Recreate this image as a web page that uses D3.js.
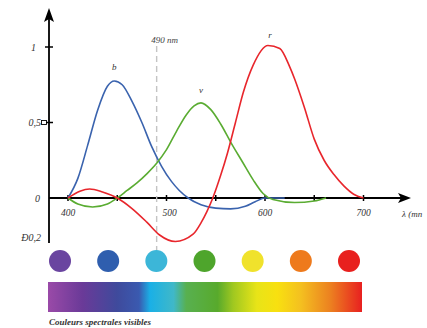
<!DOCTYPE html>
<html>
<head>
<meta charset="utf-8">
<script src="https://cdn.jsdelivr.net/npm/d3@7"></script>
<style>
  body { margin: 0; background: #fff; }
  text { font-family: "Liberation Serif", "DejaVu Serif", serif; font-style: italic; }
</style>
</head>
<body>
<script>
// courbes des sensibilites (fonctions colorimetriques r, v, b)
var bWl = [400, 410, 420, 430, 440, 447, 455, 465, 475, 485, 495, 505, 513, 522, 535, 550, 565, 580, 590, 600, 620];
var bVal = [0, 0.13, 0.35, 0.58, 0.74, 0.775, 0.75, 0.64, 0.5, 0.34, 0.21, 0.11, 0.05, 0, -0.045, -0.067, -0.072, -0.055, -0.025, 0, 0];

var vWl = [400, 410, 425, 440, 450, 460, 470, 480, 490, 500, 510, 520, 528, 535, 545, 555, 566, 577, 588, 598, 608, 630, 650, 662];
var vVal = [0, -0.04, -0.06, -0.04, 0, 0.05, 0.1, 0.16, 0.23, 0.32, 0.44, 0.55, 0.61, 0.63, 0.585, 0.49, 0.36, 0.24, 0.12, 0.03, -0.01, -0.03, -0.02, 0];

var rWl = [400, 412, 422, 435, 450, 465, 480, 493, 509, 527, 535, 541, 547, 555, 562, 570, 578, 588, 603, 615, 625, 630, 640, 650, 660, 670, 680, 690, 700];
var rVal = [0, 0.045, 0.06, 0.04, 0, -0.07, -0.16, -0.245, -0.288, -0.24, -0.165, -0.09, 0, 0.15, 0.3, 0.5, 0.7, 0.88, 1.01, 0.99, 0.87, 0.79, 0.6, 0.39, 0.25, 0.155, 0.08, 0.025, 0];

var xTicks = [400, 450, 500, 550, 600, 650, 700];
var xLabels = ["400", "", "500", "", "600", "", "700"];
var yTicks = [1, 0.5, 0, -0.2];
var yLabels = ["1", "0,5", "0", "\u00D00,2"];

var pastilles = ["#6a45a0", "#2f5eae", "#3cb6d8", "#4ea52c", "#f0e22c", "#ee7a1c", "#e8201e"];
var spectre = [
  [0, "#9a4aa8"], [0.11, "#6a3a98"], [0.22, "#3f4a9c"], [0.29, "#3a5ab0"],
  [0.325, "#1ab0e6"], [0.4, "#40b8c8"], [0.44, "#58b050"], [0.54, "#58aa2c"],
  [0.59, "#a0c820"], [0.665, "#e8e418"], [0.73, "#f8e010"], [0.805, "#f4c020"],
  [0.9, "#ec8020"], [1, "#e82020"]
];

var width = 427, height = 328;
var svg = d3.select("body").append("svg")
  .attr("width", width)
  .attr("height", height);

var x = d3.scaleLinear().domain([400, 700]).range([68, 363.5]);
var y = d3.scaleLinear().domain([0, 1]).range([198, 47]);

// axes
svg.append("line").attr("x1", 49).attr("x2", 401).attr("y1", y(0)).attr("y2", y(0))
  .attr("stroke", "#000").attr("stroke-width", 1.8);
svg.append("path").attr("d", "M398,193 L411,198 L398,203 L401,198 Z").attr("fill", "#000");

svg.append("line").attr("x1", 49).attr("x2", 49).attr("y1", 243).attr("y2", 18)
  .attr("stroke", "#000").attr("stroke-width", 1.8);
svg.append("path").attr("d", "M44,22 L49,8 L54,22 L49,19 Z").attr("fill", "#000");

// graduations x
svg.selectAll(".xt").data(xTicks).enter().append("line")
  .attr("x1", function(d){ return x(d); })
  .attr("x2", function(d){ return x(d); })
  .attr("y1", y(0) - 3).attr("y2", y(0) + 3)
  .attr("stroke", "#000").attr("stroke-width", 1.5);

svg.selectAll(".xl").data(xTicks).enter().append("text")
  .attr("x", function(d){ return x(d) + (d == 500 ? 3 : 0); })
  .attr("y", 216)
  .attr("text-anchor", "middle")
  .attr("font-size", 9.5)
  .attr("fill", "#333")
  .text(function(d, i){ return xLabels[i]; });

// graduations y
svg.selectAll(".yt").data([1]).enter().append("line")
  .attr("x1", 45).attr("x2", 53)
  .attr("y1", function(d){ return y(d); }).attr("y2", function(d){ return y(d); })
  .attr("stroke", "#000").attr("stroke-width", 1.5);
svg.append("rect").attr("x", 41.5).attr("y", y(0.5) - 2).attr("width", 5).attr("height", 4)
  .attr("fill", "none").attr("stroke", "#000").attr("stroke-width", 0.9);
svg.append("line").attr("x1", 46).attr("x2", 53).attr("y1", y(0.5)).attr("y2", y(0.5))
  .attr("stroke", "#000").attr("stroke-width", 1.5);

svg.selectAll(".yl").data(yTicks).enter().append("text")
  .attr("x", function(d){ return d == 0.5 ? 41 : (d == 1 ? 36 : (d == 0 ? 40 : 41)); })
  .attr("y", function(d){ return (d == -0.2 ? 241 : y(d) + 3.5); })
  .attr("text-anchor", "end")
  .attr("font-size", 10)
  .attr("fill", "#333")
  .text(function(d, i){ return yLabels[i]; });

svg.append("text").attr("x", 402).attr("y", 217).attr("font-size", 9).attr("fill", "#333")
  .text("\u03BB (mn");

// ligne 490 nm
svg.append("line").attr("x1", x(490)).attr("x2", x(490)).attr("y1", 46).attr("y2", 252)
  .attr("stroke", "#c4c4c4").attr("stroke-width", 1.4).attr("stroke-dasharray", "6,4");
svg.append("text").attr("x", x(490) + 8).attr("y", 43).attr("text-anchor", "middle")
  .attr("font-size", 9).attr("fill", "#444").text("490 nm");

// courbes
var line = d3.line()
  .x(function(d){ return x(d[0]); })
  .y(function(d){ return y(d[1]); })
  .curve(d3.curveMonotoneX);

var series = [
  { wl: bWl, val: bVal, color: "#3a63ae", name: "b", lx: 447, ly: 70 },
  { wl: vWl, val: vVal, color: "#5aac32", name: "v", lx: 535, ly: 93 },
  { wl: rWl, val: rVal, color: "#e8262c", name: "r", lx: 605, ly: 38 }
];

series.forEach(function(s){
  var pts = s.wl.map(function(w, i){ return [w, s.val[i]]; });
  svg.append("path").datum(pts)
    .attr("d", line)
    .attr("fill", "none")
    .attr("stroke", s.color)
    .attr("stroke-width", 1.6);
  svg.append("text").attr("x", x(s.lx)).attr("y", s.ly).attr("text-anchor", "middle")
    .attr("font-size", 9).attr("fill", "#333").text(s.name);
});

// pastilles de couleur
var cx = d3.scalePoint().domain(d3.range(pastilles.length)).range([60, 349]);
svg.selectAll(".dot").data(pastilles).enter().append("circle")
  .attr("cx", function(d, i){ return cx(i); })
  .attr("cy", 261)
  .attr("r", 11)
  .attr("fill", function(d){ return d; });

// bande spectrale
var defs = svg.append("defs");
var grad = defs.append("linearGradient").attr("id", "spec");
grad.selectAll("stop").data(spectre).enter().append("stop")
  .attr("offset", function(d){ return d[0]; })
  .attr("stop-color", function(d){ return d[1]; });
svg.append("rect").attr("x", 48).attr("y", 282).attr("width", 314).attr("height", 30)
  .attr("fill", "url(#spec)");

svg.append("text").attr("x", 49).attr("y", 325).attr("font-size", 9).attr("font-weight", "bold")
  .attr("fill", "#333").text("Couleurs spectrales visibles");
</script>
</body>
</html>
